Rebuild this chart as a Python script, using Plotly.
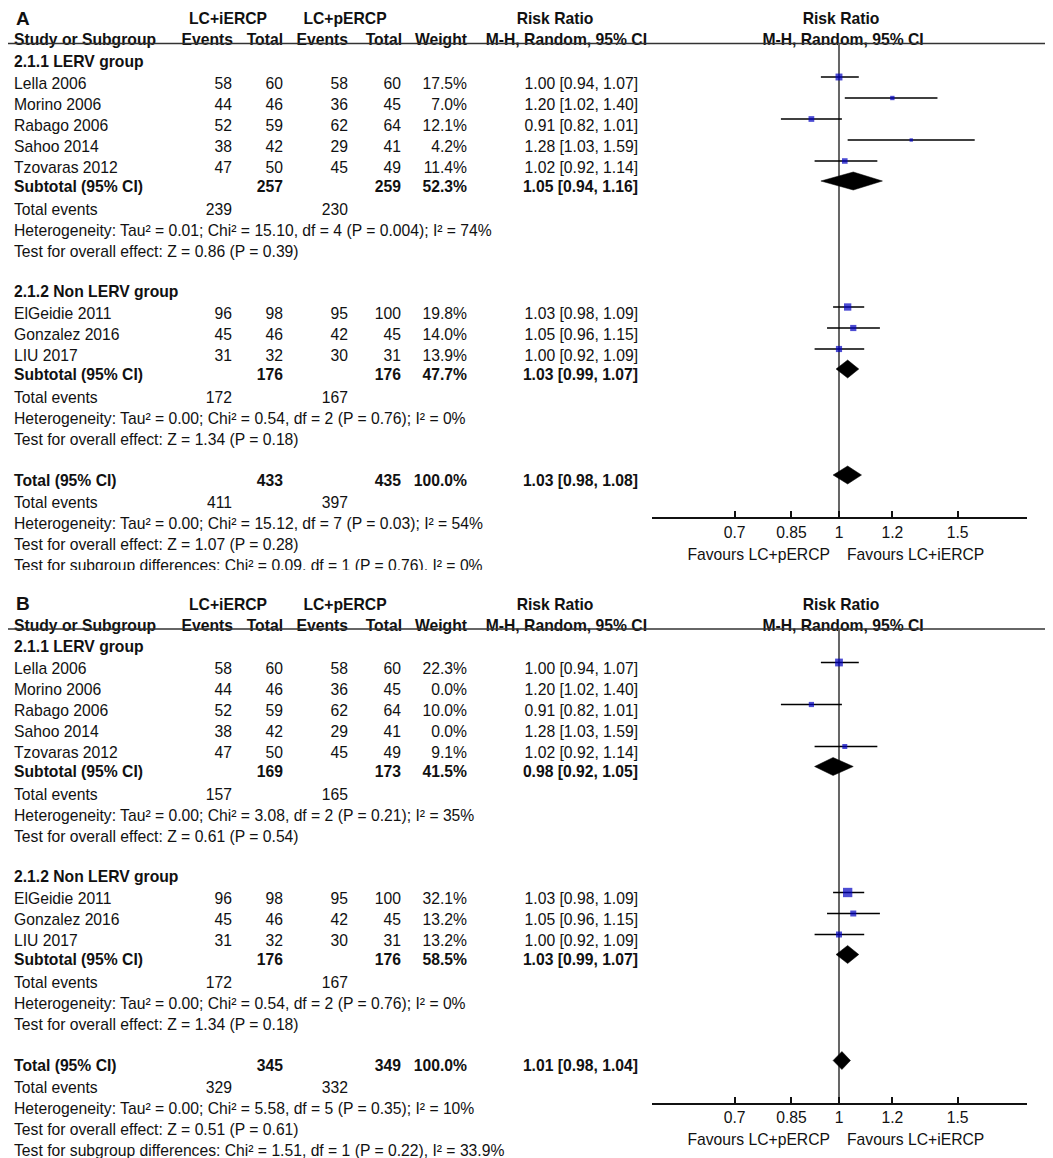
import math
import plotly.graph_objects as go

W, H = 1053, 1158
PAD = 8  # default page margin around the plot div

# ---- study level data (same studies in both panels) ----
lerv_studies = ["Lella 2006", "Morino 2006", "Rabago 2006", "Sahoo 2014", "Tzovaras 2012"]
lerv_ev_i = [58, 44, 52, 38, 47]
lerv_tot_i = [60, 46, 59, 42, 50]
lerv_ev_p = [58, 36, 62, 29, 45]
lerv_tot_p = [60, 45, 64, 41, 49]
lerv_rr = [1.00, 1.20, 0.91, 1.28, 1.02]
lerv_lo = [0.94, 1.02, 0.82, 1.03, 0.92]
lerv_hi = [1.07, 1.40, 1.01, 1.59, 1.14]
lerv_weight_a = [17.5, 7.0, 12.1, 4.2, 11.4]
lerv_weight_b = [22.3, 0.0, 10.0, 0.0, 9.1]

non_studies = ["ElGeidie 2011", "Gonzalez 2016", "LIU 2017"]
non_ev_i = [96, 45, 31]
non_tot_i = [98, 46, 32]
non_ev_p = [95, 42, 30]
non_tot_p = [100, 45, 31]
non_rr = [1.03, 1.05, 1.00]
non_lo = [0.98, 0.96, 0.92]
non_hi = [1.09, 1.15, 1.09]
non_weight_a = [19.8, 14.0, 13.9]
non_weight_b = [32.1, 13.2, 13.2]

# subtotal / total rows: tot_i, tot_p, weight, rr, lo, hi, ev_i, ev_p
sub_lerv_a = [257, 259, 52.3, 1.05, 0.94, 1.16, 239, 230]
sub_non_a = [176, 176, 47.7, 1.03, 0.99, 1.07, 172, 167]
total_a = [433, 435, 100.0, 1.03, 0.98, 1.08, 411, 397]
sub_lerv_b = [169, 173, 41.5, 0.98, 0.92, 1.05, 157, 165]
sub_non_b = [176, 176, 58.5, 1.03, 0.99, 1.07, 172, 167]
total_b = [345, 349, 100.0, 1.01, 0.98, 1.04, 329, 332]

het_a = ["Heterogeneity: Tau² = 0.01; Chi² = 15.10, df = 4 (P = 0.004); I² = 74%",
         "Heterogeneity: Tau² = 0.00; Chi² = 0.54, df = 2 (P = 0.76); I² = 0%",
         "Heterogeneity: Tau² = 0.00; Chi² = 15.12, df = 7 (P = 0.03); I² = 54%"]
z_a = ["Test for overall effect: Z = 0.86 (P = 0.39)",
       "Test for overall effect: Z = 1.34 (P = 0.18)",
       "Test for overall effect: Z = 1.07 (P = 0.28)"]
subgroup_a = "Test for subgroup differences: Chi² = 0.09, df = 1 (P = 0.76), I² = 0%"

het_b = ["Heterogeneity: Tau² = 0.00; Chi² = 3.08, df = 2 (P = 0.21); I² = 35%",
         "Heterogeneity: Tau² = 0.00; Chi² = 0.54, df = 2 (P = 0.76); I² = 0%",
         "Heterogeneity: Tau² = 0.00; Chi² = 5.58, df = 5 (P = 0.35); I² = 10%"]
z_b = ["Test for overall effect: Z = 0.61 (P = 0.54)",
       "Test for overall effect: Z = 1.34 (P = 0.18)",
       "Test for overall effect: Z = 0.51 (P = 0.61)"]
subgroup_b = "Test for subgroup differences: Chi² = 1.51, df = 1 (P = 0.22), I² = 33.9%"

tick_vals = [0.7, 0.85, 1, 1.2, 1.5]
tick_text = ["0.7", "0.85", "1", "1.2", "1.5"]

FONT = "Arial, 'Liberation Sans', sans-serif"
FS = 15.7
INK = "#111111"
BLUE = "#0000c0"
TEXT_DY = 3  # text sits a little high otherwise

# right edges of the number columns (page px)
COLS = dict(ev_i=232, tot_i=283, ev_p=348, tot_p=401, weight=467, rr=638)

fig = go.Figure()


def text_col(x, ys, texts, pos, yref, bold=False, size=FS, clip=True):
    if not ys:
        return
    fig.add_trace(go.Scatter(
        x=[x] * len(ys), y=[v + TEXT_DY for v in ys], text=texts, mode="text", textposition=pos,
        textfont=dict(family=FONT, size=size, color=INK, weight="bold" if bold else "normal"),
        cliponaxis=clip,
        xaxis="x", yaxis=yref, hoverinfo="skip", showlegend=False))


def ci_text(rr, lo, hi):
    return f"{rr:.2f} [{lo:.2f}, {hi:.2f}]"


def build_panel(label, yref, xlog, groups, total, het, zt, subgroup_txt):
    cells = {k: [] for k in ["left", "ev_i", "tot_i", "ev_p", "tot_p", "weight", "rr"]}
    ci_x, ci_y, sq_x, sq_y, sq_s = [], [], [], [], []
    diamonds = []

    def put(col, y, txt, bold=False):
        cells[col].append((y, txt, bold))

    y = 60
    for gi, (gname, names, ei, ti, ep, tp, w, rr, lo, hi, sub) in enumerate(groups):
        put("left", y, gname, True)
        y += 22
        for k in range(len(names)):
            put("left", y, names[k])
            put("ev_i", y, str(ei[k]))
            put("tot_i", y, str(ti[k]))
            put("ev_p", y, str(ep[k]))
            put("tot_p", y, str(tp[k]))
            put("weight", y, f"{w[k]:.1f}%")
            put("rr", y, ci_text(rr[k], lo[k], hi[k]))
            if w[k] > 0:
                ci_x += [lo[k], hi[k], None]
                ci_y += [y - 5, y - 5, None]
                sq_x.append(rr[k])
                sq_y.append(y - 5)
                sq_s.append(1.65 * math.sqrt(w[k]))
            y += 21
        y -= 2
        put("left", y, "Subtotal (95% CI)", True)
        put("tot_i", y, str(sub[0]), True)
        put("tot_p", y, str(sub[1]), True)
        put("weight", y, f"{sub[2]:.1f}%", True)
        put("rr", y, ci_text(sub[3], sub[4], sub[5]), True)
        diamonds.append((sub[3], sub[4], sub[5], y - 4))
        y += 23
        put("left", y, "Total events")
        put("ev_i", y, str(sub[6]))
        put("ev_p", y, str(sub[7]))
        y += 21
        put("left", y, het[gi])
        y += 21
        put("left", y, zt[gi])
        y += 40
    y += 1
    put("left", y, "Total (95% CI)", True)
    put("tot_i", y, str(total[0]), True)
    put("tot_p", y, str(total[1]), True)
    put("weight", y, f"{total[2]:.1f}%", True)
    put("rr", y, ci_text(total[3], total[4], total[5]), True)
    diamonds.append((total[3], total[4], total[5], y - 4))
    y += 22
    put("left", y, "Total events")
    put("ev_i", y, str(total[6]))
    put("ev_p", y, str(total[7]))
    axis_y = y + 17
    y += 21
    put("left", y, het[2])
    y += 21
    put("left", y, zt[2])
    y += 21
    put("left", y, subgroup_txt)

    # table text
    for col, items in cells.items():
        x = 14 if col == "left" else COLS[col]
        pos = "middle right" if col == "left" else "middle left"
        for bold in (False, True):
            sel = [it for it in items if it[2] == bold]
            text_col(x, [s[0] for s in sel], [s[1] for s in sel], pos, yref, bold)

    # headers
    text_col(16, [17], [label], "middle right", yref, True, 19, clip=False)
    text_col(228, [17.5], ["LC+iERCP"], "middle center", yref, True)
    text_col(345, [17.5], ["LC+pERCP"], "middle center", yref, True)
    text_col(555, [17.5], ["Risk Ratio"], "middle center", yref, True)
    text_col(841, [17.5], ["Risk Ratio"], "middle center", yref, True)
    text_col(14, [38.5], ["Study or Subgroup"], "middle right", yref, True)
    hx = [233, 283, 348, 402, 467, 647]
    hs = ["Events", "Total", "Events", "Total", "Weight", "M-H, Random, 95% CI"]
    for x, s in zip(hx, hs):
        text_col(x, [38.5], [s], "middle left", yref, True)
    text_col(843, [38.5], ["M-H, Random, 95% CI"], "middle center", yref, True)
    text_col(830, [axis_y + 35], ["Favours LC+pERCP"], "middle left", yref)
    text_col(847, [axis_y + 35], ["Favours LC+iERCP"], "middle right", yref)

    # header rule
    fig.add_trace(go.Scatter(x=[2, W], y=[43.5, 43.5], mode="lines",
                             line=dict(color="#333333", width=1.5),
                             xaxis="x", yaxis=yref, hoverinfo="skip", showlegend=False))
    # line of no effect
    fig.add_trace(go.Scatter(x=[1, 1], y=[43.5, axis_y], mode="lines",
                             line=dict(color="#666666", width=2),
                             xaxis=xlog, yaxis=yref, hoverinfo="skip", showlegend=False))
    # study CIs and weighted squares
    fig.add_trace(go.Scatter(x=ci_x, y=ci_y, mode="lines", line=dict(color="black", width=1.5),
                             xaxis=xlog, yaxis=yref, hoverinfo="skip", showlegend=False))
    fig.add_trace(go.Scatter(x=sq_x, y=sq_y, mode="markers",
                             marker=dict(symbol="square", color=BLUE, size=sq_s, line=dict(width=0)),
                             xaxis=xlog, yaxis=yref, hoverinfo="skip", showlegend=False))
    # pooled diamonds
    for est, lo, hi, yc in diamonds:
        fig.add_trace(go.Scatter(x=[lo, est, hi, est, lo], y=[yc, yc - 9, yc, yc + 9, yc],
                                 mode="lines", fill="toself", fillcolor="black",
                                 line=dict(color="black", width=0.5),
                                 xaxis=xlog, yaxis=yref, hoverinfo="skip", showlegend=False))
    return axis_y


groups_a = [
    ("2.1.1 LERV group", lerv_studies, lerv_ev_i, lerv_tot_i, lerv_ev_p, lerv_tot_p,
     lerv_weight_a, lerv_rr, lerv_lo, lerv_hi, sub_lerv_a),
    ("2.1.2 Non LERV group", non_studies, non_ev_i, non_tot_i, non_ev_p, non_tot_p,
     non_weight_a, non_rr, non_lo, non_hi, sub_non_a),
]
groups_b = [
    ("2.1.1 LERV group", lerv_studies, lerv_ev_i, lerv_tot_i, lerv_ev_p, lerv_tot_p,
     lerv_weight_b, lerv_rr, lerv_lo, lerv_hi, sub_lerv_b),
    ("2.1.2 Non LERV group", non_studies, non_ev_i, non_tot_i, non_ev_p, non_tot_p,
     non_weight_b, non_rr, non_lo, non_hi, sub_non_b),
]

axis_a = build_panel("A", "y", "x2", groups_a, total_a, het_a, z_a, subgroup_a)
axis_b = build_panel("B", "y2", "x3", groups_b, total_b, het_b, z_b, subgroup_b)

OFF_B = 585.5  # vertical offset of panel B
A_BOTTOM, B_TOP = 570, 572
FW, FH = W - PAD, H - PAD


def py(px):
    # page pixel row -> paper fraction
    return 1 - (px - PAD) / FH


def log_axis(pos_px):
    return dict(type="log", domain=[(652 - PAD) / FW, (1027 - PAD) / FW], range=[-0.2775, 0.279],
                anchor="free", position=py(pos_px),
                showline=True, linecolor=INK, linewidth=1.5,
                ticks="inside", ticklen=6, tickwidth=1.5, tickcolor=INK,
                tickvals=tick_vals, ticktext=tick_text,
                tickfont=dict(family=FONT, size=FS, color=INK),
                showgrid=False, zeroline=False)


fig.update_layout(
    width=FW, height=FH,
    margin=dict(l=0, r=0, t=0, b=0),
    paper_bgcolor="white", plot_bgcolor="rgba(0,0,0,0)",
    showlegend=False,
    xaxis=dict(range=[PAD, W], domain=[0, 1], visible=False, anchor="y"),
    xaxis2=log_axis(axis_a),
    xaxis3=log_axis(axis_b + OFF_B),
    yaxis=dict(range=[A_BOTTOM, PAD], domain=[py(A_BOTTOM), 1], visible=False),
    yaxis2=dict(range=[H - OFF_B, B_TOP - OFF_B], domain=[0, py(B_TOP)], visible=False),
)

fig.write_html("out.html")
